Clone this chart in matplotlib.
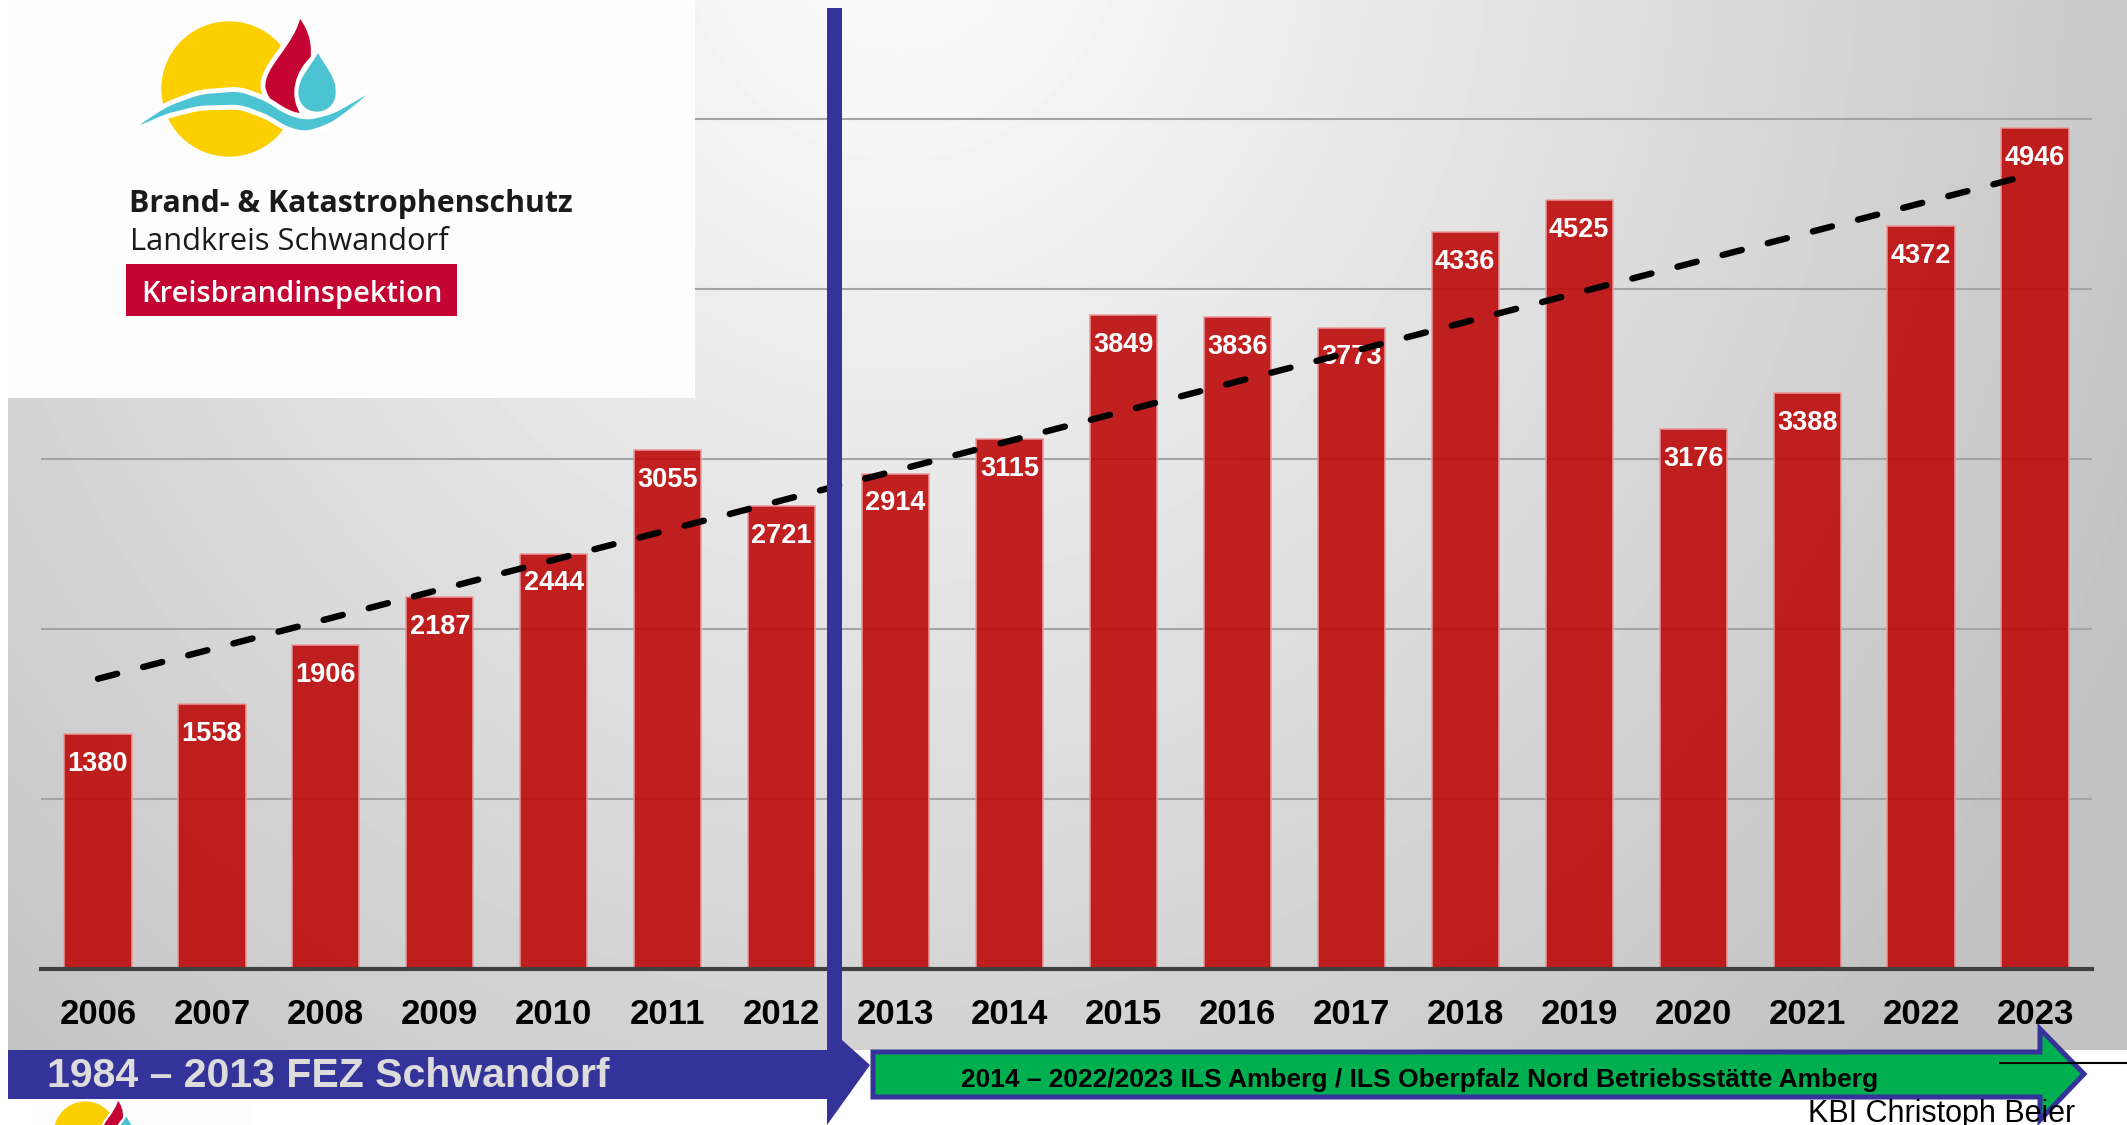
import numpy as np
import matplotlib
matplotlib.use('Agg')
import matplotlib.pyplot as plt
from matplotlib.patches import Polygon, Rectangle, Circle, PathPatch
from matplotlib.path import Path
from matplotlib.transforms import Affine2D

plt.rcParams['font.family'] = ['Liberation Sans', 'DejaVu Sans']

years = ['2006', '2007', '2008', '2009', '2010', '2011', '2012', '2013', '2014',
         '2015', '2016', '2017', '2018', '2019', '2020', '2021', '2022', '2023']
einsaetze = [1380, 1558, 1906, 2187, 2444, 3055, 2721, 2914, 3115,
             3849, 3836, 3773, 4336, 4525, 3176, 3388, 4372, 4946]
grid_values = [1000, 2000, 3000, 4000, 5000]

label_fez = '1984 – 2013 FEZ Schwandorf'
label_ils = '2014 – 2022/2023 ILS Amberg / ILS Oberpfalz Nord Betriebsstätte Amberg'
footer = 'KBI Christoph Beier'
logo_lines = ['Brand- & Katastrophenschutz', 'Landkreis Schwandorf', 'Kreisbrandinspektion']

W, H = 2127, 1125
fig = plt.figure(figsize=(W / 100, H / 100), dpi=100)
fig.patch.set_facecolor('white')

# grey slide background with a soft light spot near the top
bg = fig.add_axes([0, 0, 1, 1], zorder=0)
gx, gy = np.meshgrid(np.linspace(8, W, 400), np.linspace(0, 1050, 200))
d = np.hypot((gx - 900) / 1300, (gy + 100) / 1500)
shade = np.clip(0.995 - 0.22 * d, 0.76, 1)
bg.imshow(shade, cmap='gray', vmin=0, vmax=1, extent=(8, W, 1050, 0),
          aspect='auto', interpolation='bilinear')
bg.set_xlim(0, W)
bg.set_ylim(H, 0)
bg.axis('off')

# the bar chart
ax = fig.add_axes([41 / W, (H - 969) / H, (2092 - 41) / W, 935 / H], zorder=1)
ax.patch.set_alpha(0)
x = np.arange(len(years))
ax.bar(x, einsaetze, width=0.59, color='#bd0a0a', alpha=0.9,
       edgecolor='#ec9a9a', linewidth=1.2, zorder=2)
for i, v in enumerate(einsaetze):
    ax.annotate(str(v), (i, v), xytext=(0, -21.5), textcoords='offset points',
                ha='center', va='center', color='white', fontsize=19.5,
                fontweight='bold', zorder=3)

coef = np.polyfit(x, einsaetze, 1)
ax.plot(x, np.polyval(coef, x), color='black', lw=4.6, ls=(0, (3.1, 4.2)),
        dash_capstyle='round', zorder=4)

ax.set_xlim(-0.5, len(years) - 0.5)
ax.set_ylim(0, 5500)
ax.set_yticks(grid_values)
ax.yaxis.grid(True, color='#a4a4a4', lw=1.5)
ax.set_axisbelow(True)
ax.tick_params(axis='y', left=False, labelleft=False)
ax.set_xticks(x, years, fontsize=25, fontweight='bold')
ax.tick_params(axis='x', length=0, pad=21)
for s in ['top', 'right', 'left']:
    ax.spines[s].set_visible(False)
ax.spines['bottom'].set_color('#404040')
ax.spines['bottom'].set_linewidth(3)

# overlay in pixel coordinates: logo box, period arrows, footer
ov = fig.add_axes([0, 0, 1, 1], zorder=3)
ov.set_xlim(0, W)
ov.set_ylim(H, 0)
ov.axis('off')

C4 = Path.CURVE4


def draw_logo(axis, s, dx, dy):
    tr = Affine2D().scale(s).translate(dx, dy) + axis.transData
    axis.add_patch(Circle((229, 89), 67, color='#fbcf00', transform=tr))
    flame = Path([(299, 13), (308, 25), (315, 38), (313, 58),
                  (298, 72), (290, 95), (304, 115),
                  (290, 117), (268, 110), (263, 88),
                  (261, 65), (293, 45), (299, 13), (299, 13)],
                 [Path.MOVETO] + [C4] * 12 + [Path.CLOSEPOLY])
    axis.add_patch(PathPatch(flame, facecolor='#c40533', edgecolor='white',
                             lw=3.5 * s, transform=tr))
    drop = Path([(318, 50), (326, 66), (338, 76), (337, 93),
                 (337, 105), (328, 113), (317, 113),
                 (306, 113), (297, 105), (297, 93),
                 (297, 76), (310, 66), (318, 50), (318, 50)],
                [Path.MOVETO] + [C4] * 12 + [Path.CLOSEPOLY])
    axis.add_patch(PathPatch(drop, facecolor='#4cc3d3', edgecolor='white',
                             lw=2 * s, transform=tr))
    # wave
    kx = [132, 167, 200, 240, 267, 287, 307, 333, 360, 375]
    ky = [129, 110, 100, 98, 108, 121, 126, 118, 100, 89]
    xs = np.linspace(132, 375, 200)
    yc = np.interp(xs, kx, ky)
    yc = np.convolve(np.pad(yc, 7, mode='edge'), np.ones(15) / 15, mode='valid')
    t = (xs - 132) / 243
    th = 18 * np.sin(np.pi * t) ** 0.5
    pts = np.vstack([np.column_stack([xs, yc - th / 2]),
                     np.column_stack([xs[::-1], (yc + th / 2)[::-1]])])
    axis.add_patch(Polygon(pts, closed=True, facecolor='#4cc3d3', edgecolor='white',
                           lw=3.5 * s, transform=tr))


ov.add_patch(Rectangle((8, 0), 687, 398, facecolor='#fdfdfd', edgecolor='none'))
draw_logo(ov, 1.0, 0, 0)
ov.text(129, 212, logo_lines[0], family='Open Sans', fontweight='bold',
        fontsize=21.8, color='#1a1a1a', va='baseline')
ov.text(130, 250, logo_lines[1], family='Open Sans', fontsize=22.2,
        color='#1a1a1a', va='baseline')
ov.add_patch(Rectangle((126, 264), 331, 52, facecolor='#c40533', edgecolor='none'))
ov.text(141, 302, logo_lines[2], family='Open Sans', fontweight='semibold',
        fontsize=21, color='white', va='baseline')

# small second logo peeking in at the bottom
ov.add_patch(Rectangle((32, 1099), 218, 26, facecolor='#fdfdfd', edgecolor='none'))
draw_logo(ov, 0.46, -20, 1092)

# footer line and author
ov.plot([2000, W], [1063, 1063], color='black', lw=1.5)
ov.text(1808, 1122, footer, fontsize=22, color='black', va='baseline')

# blue period bar with the bent arrow
ov.add_patch(Rectangle((8, 1050), 822, 49, facecolor='#333399', edgecolor='none'))
ov.add_patch(Polygon([(827, 8), (842, 8), (842, 1040), (870, 1065), (827, 1125)],
                     closed=True, facecolor='#333399', edgecolor='none'))
ov.text(47, 1087, label_fez, fontsize=29.5, fontweight='bold', color='#dcdcdc',
        va='baseline')

# green period arrow
ov.add_patch(Polygon([(873, 1052), (2040, 1052), (2040, 1029), (2084, 1074),
                      (2040, 1120), (2040, 1097), (873, 1097)], closed=True,
                     facecolor='#00b050', edgecolor='#333399', lw=3.6, joinstyle='miter'))
ov.text(1420, 1087, label_ils, fontsize=19, fontweight='bold', color='black',
        ha='center', va='baseline')

fig.savefig('out.png', dpi=100)
